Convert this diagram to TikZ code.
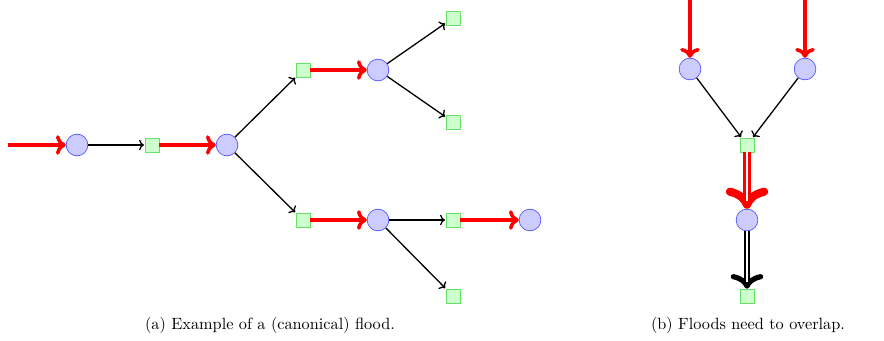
\documentclass[tikz,border=0pt]{standalone}
\usepackage{tikz}
\usetikzlibrary{positioning, arrows.meta}

\begin{document}
\begin{tikzpicture}[x=0.0216cm,y=-0.0216cm,
  proc/.style={circle, draw=blue!70, fill=blue!20, minimum size=0.47cm, inner sep=0pt},
  pkt/.style={rectangle, draw=green!80!black!60, fill=green!20, minimum size=0.3cm, inner sep=0pt},
  arr/.style={-{To[length=3pt,width=6.5pt]}, thick, black, shorten >=0.5pt},
  flood/.style={-{To[round,length=1pt 2.3,width=2pt 4.6]}, red, line width=2.2pt},
  gap/.style={white, line width=1.3pt},
  subcap/.style={font=\normalsize, align=center}]
  \useasboundingbox (0,0) rectangle (884,341);

  %% (a) canonical flood
  \coordinate (s0) at (8,145);
  \node[proc] (a1) at (77,145) {};
  \node[pkt]  (m1) at (152,145) {};
  \node[proc] (a2) at (227,145) {};
  \node[pkt]  (m2) at (303,70) {};
  \node[pkt]  (m3) at (303,220) {};
  \node[proc] (a3) at (378,70) {};
  \node[proc] (a4) at (378,220) {};
  \node[pkt]  (m4) at (453,18) {};
  \node[pkt]  (m5) at (453,122) {};
  \node[pkt]  (m6) at (453,220) {};
  \node[pkt]  (m7) at (453,296) {};
  \node[proc] (a5) at (530,220) {};

  \draw[flood] (s0) -- (a1);
  \draw[arr] (a1) -- (m1);
  \draw[flood] (m1) -- (a2);
  \draw[arr] (a2) -- (m2);
  \draw[arr] (a2) -- (m3);
  \draw[flood] (m2) -- (a3);
  \draw[flood] (m3) -- (a4);
  \draw[arr] (a3) -- (m4);
  \draw[arr] (a3) -- (m5);
  \draw[arr] (a4) -- (m6);
  \draw[arr] (a4) -- (m7);
  \draw[flood] (m6) -- (a5);

  \node[subcap] (capa) at (270,325) {(a) Example of a (canonical) flood.};

  %% (b) overlapping floods
  \coordinate (t1) at (690,0);
  \coordinate (t2) at (805,0);
  \node[proc] (b1) at (690,69) {};
  \node[proc] (b2) at (805,69) {};
  \node[pkt]  (n1) at (747,145) {};
  \node[proc] (b3) at (747,220) {};
  \node[pkt]  (n2) at (747,296) {};

  \draw[flood] (t1) -- (b1);
  \draw[flood] (t2) -- (b2);
  \draw[arr] (b1) -- (n1);
  \draw[arr] (b2) -- (n1);
  % double arrows: thick line with a white gap on top
  \draw[red, line width=5pt, -{To[round,length=13pt,width=26pt]}] (n1) -- (b3);
  \draw[gap, shorten >=5pt] (n1.south) -- (b3);
  \draw[black, line width=3.2pt, -{To[round,length=9pt,width=20pt]}] (b3) -- (n2);
  \draw[gap, shorten >=4pt] (b3.south) -- (n2);

  \node[subcap] (capb) at (748,325) {(b) Floods need to overlap.};
\end{tikzpicture}
\end{document}
